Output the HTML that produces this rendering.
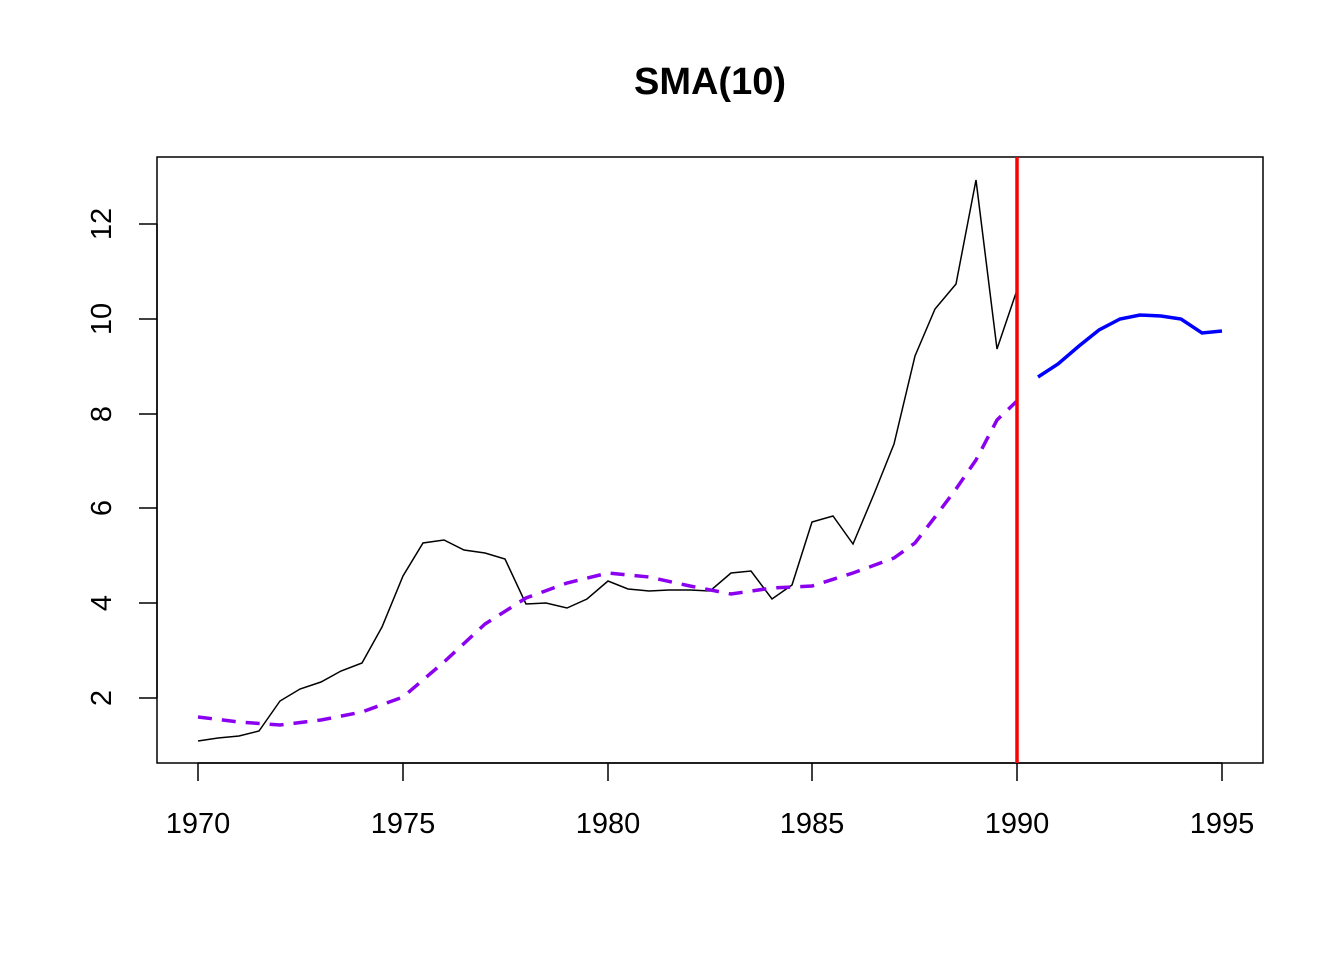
<!DOCTYPE html>
<html><head><meta charset="utf-8"><style>body{margin:0;background:#fff}svg{display:block}</style></head>
<body>
<svg width="1344" height="960" xmlns="http://www.w3.org/2000/svg" font-family="Liberation Sans, Arial, sans-serif">
<rect width="1344" height="960" fill="#fff"/>
<text x="710" y="94" text-anchor="middle" font-size="38" font-weight="bold">SMA(10)</text>
<rect x="157" y="157" width="1106" height="606" fill="none" stroke="#000" stroke-width="1.5"/>
<g stroke="#000" stroke-width="1.5">
<line x1="198" y1="763" x2="1222" y2="763"/>
<line x1="198" y1="763" x2="198" y2="781"/><line x1="403" y1="763" x2="403" y2="781"/><line x1="608" y1="763" x2="608" y2="781"/><line x1="812" y1="763" x2="812" y2="781"/><line x1="1017" y1="763" x2="1017" y2="781"/><line x1="1222" y1="763" x2="1222" y2="781"/>
<line x1="157" y1="224" x2="157" y2="698"/>
<line x1="139" y1="698" x2="157" y2="698"/><line x1="139" y1="603" x2="157" y2="603"/><line x1="139" y1="508" x2="157" y2="508"/><line x1="139" y1="414" x2="157" y2="414"/><line x1="139" y1="319" x2="157" y2="319"/><line x1="139" y1="224" x2="157" y2="224"/>
</g>
<g font-size="29" text-anchor="middle">
<text x="198" y="833">1970</text><text x="403" y="833">1975</text><text x="608" y="833">1980</text><text x="812" y="833">1985</text><text x="1017" y="833">1990</text><text x="1222" y="833">1995</text>
<text transform="translate(111,698) rotate(-90)">2</text>
<text transform="translate(111,603) rotate(-90)">4</text>
<text transform="translate(111,508) rotate(-90)">6</text>
<text transform="translate(111,414) rotate(-90)">8</text>
<text transform="translate(111,319) rotate(-90)">10</text>
<text transform="translate(111,224) rotate(-90)">12</text>
</g>
<polyline fill="none" stroke="#000" stroke-width="1.5" points="198,741 218,738 239,736 259,731 280,701 300,689 321,682 341,671 362,663 382,627 403,576 423,543 444,540 464,550 485,553 505,559 526,604 546,603 567,608 587,599 608,581 628,589 649,591 669,590 690,590 710,591 731,573 751,571 772,599 792,585 812,522 833,516 853,544 874,494 894,444 915,356 935,309 956,284 976,180 997,349 1017,290"/>
<polyline fill="none" stroke="#8B00EE" stroke-width="3.5" stroke-dasharray="14,10" points="198,717 239,722 280,725 321,720 362,712 403,697 444,662 485,624 526,598 567,583 608,573 649,577 690,586 731,594 772,588 812,586 853,573 894,558 915,543 935,517 956,489 976,460 997,420 1017,401"/>
<line x1="1017" y1="157" x2="1017" y2="763" stroke="#FF0000" stroke-width="3.5"/>
<polyline fill="none" stroke="#0000FF" stroke-width="3.5" points="1038,377 1058,364 1079,346 1099,330 1120,319 1140,315 1161,316 1181,319 1202,333 1222,331"/>
</svg>
</body></html>
